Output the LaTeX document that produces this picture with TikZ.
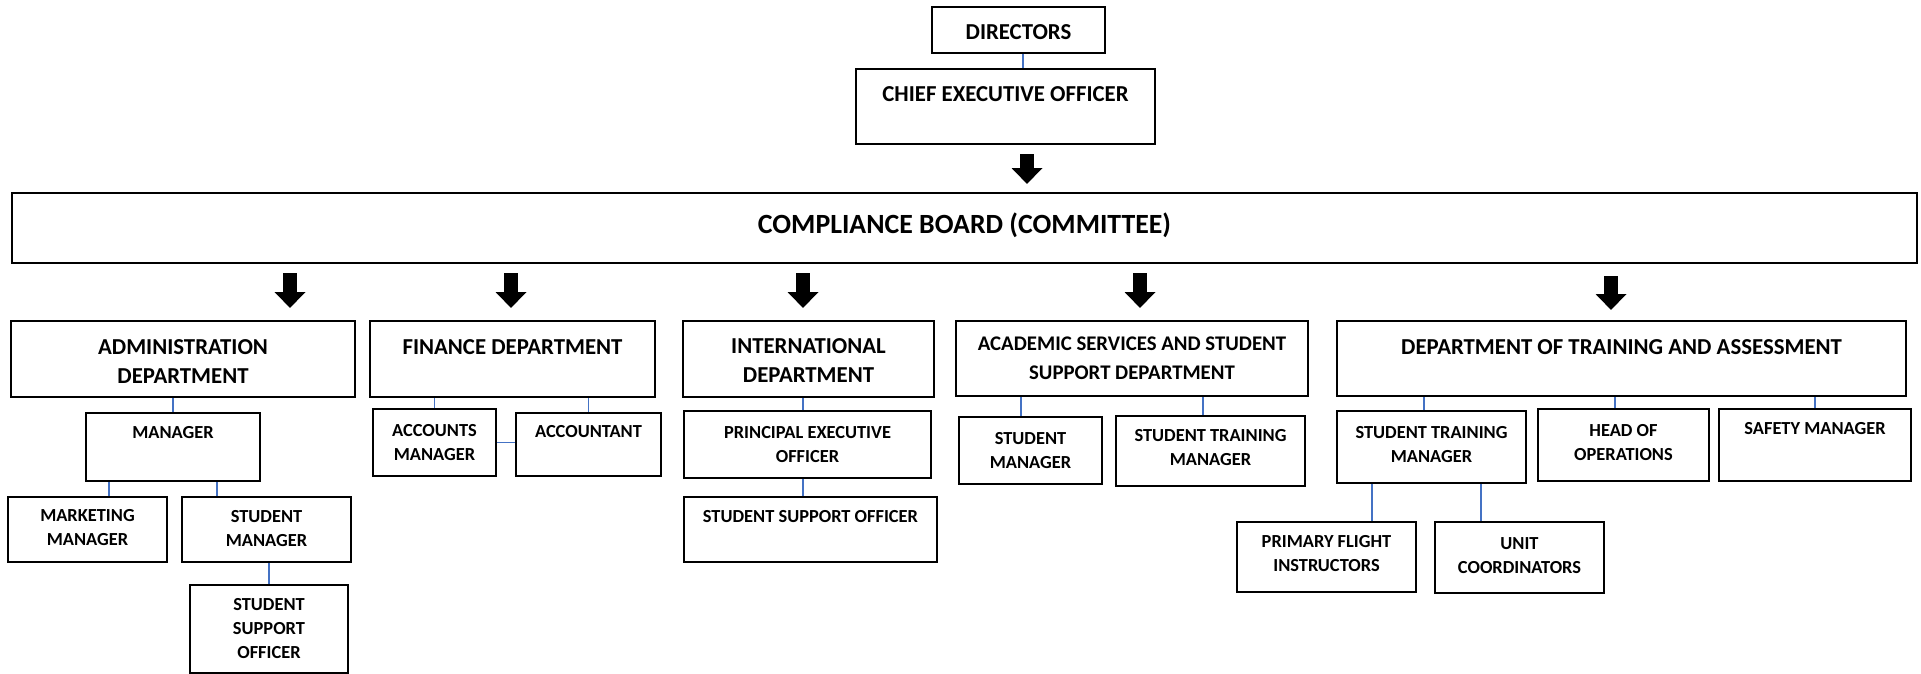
\documentclass[tikz,border=0pt]{standalone}
\usepackage{fontspec}
\setmainfont{Carlito}
\usetikzlibrary{arrows.meta, positioning, fit}

\definecolor{linkblue}{RGB}{68,114,196}

\tikzset{
  box/.style={draw=black, line width=0.9pt, inner sep=0pt},
  toptext/.style={font=\bfseries\fontsize{11.4}{14.5}\selectfont, align=center, inner sep=0pt},
  boardtext/.style={font=\bfseries\fontsize{13.9}{17}\selectfont, align=center, inner sep=0pt},
  smalltext/.style={font=\bfseries\fontsize{9.2}{12}\selectfont, align=center, inner sep=0pt},
  link/.style={draw=linkblue, line width=0.6pt},
  bigarrow/.style={line width=7pt, -{Triangle[length=8pt, width=15pt]}}
}

\begin{document}
\begin{tikzpicture}[x=0.5pt, y=-0.5pt]
        \useasboundingbox (0,0) rectangle (1921,674);
        % top of the chart
        \node[box, fit={(932,7) (1105,53)}] (dir) {};
        \node[toptext, below=9pt of dir.north] (dir-t) {DIRECTORS};
        \node[box, fit={(856,69) (1155,144)}] (ceo) {};
        \node[toptext, below=9pt of ceo.north] (ceo-t) {CHIEF EXECUTIVE OFFICER};
        \node[box, fit={(12,193) (1917,263)}] (board) {};
        \node[boardtext, below=10pt of board.north] (board-t) {COMPLIANCE BOARD (COMMITTEE)};
        \draw[link] ([xshift=2.25pt]dir.south) -- ([xshift=2.25pt]dir.south |- ceo.north);
        \coordinate (a0s) at (1027,154);
        \coordinate (a0e) at (1027,184);
        \draw[bigarrow] (a0s) -- (a0e);

        % departments
        \node[box, fit={(11,321) (355,397)}] (admin) {};
        \node[toptext, below=9.5pt of admin.north] (admin-t) {ADMINISTRATION\\DEPARTMENT};
        \node[box, fit={(370,321) (655,397)}] (fin) {};
        \node[toptext, below=9.5pt of fin.north] (fin-t) {FINANCE DEPARTMENT};
        \node[box, fit={(683,321) (934,397)}] (intl) {};
        \node[toptext, below=9pt of intl.north] (intl-t) {INTERNATIONAL\\DEPARTMENT};
        \node[box, fit={(956,321) (1308,396)}] (acad) {};
        \node[toptext, font=\bfseries\fontsize{10.4}{14.5}\selectfont, below=8pt of acad.north] (acad-t) {ACADEMIC SERVICES AND STUDENT\\SUPPORT DEPARTMENT};
        \node[box, fit={(1337,321) (1906,396)}] (dta) {};
        \node[toptext, below=9.5pt of dta.north] (dta-t) {DEPARTMENT OF TRAINING AND ASSESSMENT};
        \coordinate (a1s) at (290,273);
        \coordinate (a1e) at (290,308);
        \coordinate (a2s) at (511,273);
        \coordinate (a2e) at (511,308);
        \coordinate (a3s) at (803,273);
        \coordinate (a3e) at (803,308);
        \coordinate (a4s) at (1140,273);
        \coordinate (a4e) at (1140,308);
        \coordinate (a5s) at (1611,276);
        \coordinate (a5e) at (1611,310);
        \draw[bigarrow] (a1s) -- (a1e);
        \draw[bigarrow] (a2s) -- (a2e);
        \draw[bigarrow] (a3s) -- (a3e);
        \draw[bigarrow] (a4s) -- (a4e);
        \draw[bigarrow] (a5s) -- (a5e);

        % administration
        \node[box, fit={(86,413) (260,481)}] (mgr) {};
        \node[smalltext, below=7pt of mgr.north] (mgr-t) {MANAGER};
        \node[box, fit={(8,497) (167,562)}] (mkt) {};
        \node[smalltext, below=6.5pt of mkt.north] (mkt-t) {MARKETING\\MANAGER};
        \node[box, fit={(182,497) (351,562)}] (smgr) {};
        \node[smalltext, below=7pt of smgr.north] (smgr-t) {STUDENT\\MANAGER};
        \node[box, fit={(190,585) (348,673)}] (sso) {};
        \node[smalltext, below=7pt of sso.north] (sso-t) {STUDENT\\SUPPORT\\OFFICER};
        \draw[link] (mgr.north) -- (mgr.north |- admin.south);
        \draw[link] ([xshift=10.75pt]mkt.north) -- ([xshift=10.75pt]mkt.north |- mgr.south);
        \draw[link] ([xshift=-24.75pt]smgr.north) -- ([xshift=-24.75pt]smgr.north |- mgr.south);
        \draw[link] (sso.north) -- (sso.north |- smgr.south);

        % finance
        \node[box, fit={(373,409) (496,476)}] (accmgr) {};
        \node[smalltext, below=8pt of accmgr.north] (accmgr-t) {ACCOUNTS\\MANAGER};
        \node[box, fit={(516,413) (661,476)}] (acct) {};
        \node[smalltext, below=6.5pt of acct.north] (acct-t) {ACCOUNTANT};
        \draw[link] (accmgr.north) -- (accmgr.north |- fin.south);
        \draw[link] (acct.north) -- (acct.north |- fin.south);
        \draw[link] (accmgr.east) -- (accmgr.east -| acct.west);

        % international
        \node[box, fit={(684,411) (931,478)}] (peo) {};
        \node[smalltext, below=8pt of peo.north] (peo-t) {PRINCIPAL EXECUTIVE\\OFFICER};
        \node[box, fit={(684,497) (937,562)}] (sso2) {};
        \node[smalltext, below=7pt of sso2.north] (sso2-t) {STUDENT SUPPORT OFFICER};
        \draw[link] ([xshift=-2.25pt]peo.north) -- ([xshift=-2.25pt]peo.north |- intl.south);
        \draw[link] ([xshift=-2.25pt]peo.south) -- ([xshift=-2.25pt]peo.south |- sso2.north);

        % academic services
        \node[box, fit={(959,417) (1102,484)}] (smgr2) {};
        \node[smalltext, below=8pt of smgr2.north] (smgr2-t) {STUDENT\\MANAGER};
        \node[box, fit={(1116,416) (1305,486)}] (stm2) {};
        \node[smalltext, below=7pt of stm2.north] (stm2-t) {STUDENT TRAINING\\MANAGER};
        \draw[link] ([xshift=-4.75pt]smgr2.north) -- ([xshift=-4.75pt]smgr2.north |- acad.south);
        \draw[link] ([xshift=-3.75pt]stm2.north) -- ([xshift=-3.75pt]stm2.north |- acad.south);

        % training and assessment
        \node[box, fit={(1337,411) (1526,483)}] (stm3) {};
        \node[smalltext, below=8pt of stm3.north] (stm3-t) {STUDENT TRAINING\\MANAGER};
        \node[box, fit={(1538,409) (1709,481)}] (hoo) {};
        \node[smalltext, below=8pt of hoo.north] (hoo-t) {HEAD OF\\OPERATIONS};
        \node[box, fit={(1719,409) (1911,481)}] (safety) {};
        \node[smalltext, below=7pt of safety.north] (safety-t) {SAFETY MANAGER};
        \node[box, fit={(1237,522) (1416,592)}] (pfi) {};
        \node[smalltext, below=7pt of pfi.north] (pfi-t) {PRIMARY FLIGHT\\INSTRUCTORS};
        \node[box, fit={(1435,522) (1604,593)}] (unit) {};
        \node[smalltext, below=8pt of unit.north] (unit-t) {UNIT\\COORDINATORS};
        \draw[link] ([xshift=-3.75pt]stm3.north) -- ([xshift=-3.75pt]stm3.north |- dta.south);
        \draw[link] ([xshift=-4.25pt]hoo.north) -- ([xshift=-4.25pt]hoo.north |- dta.south);
        \draw[link] (safety.north) -- (safety.north |- dta.south);
        \draw[link] ([xshift=22.75pt]pfi.north) -- ([xshift=22.75pt]pfi.north |- stm3.south);
        \draw[link] ([xshift=-19.25pt]unit.north) -- ([xshift=-19.25pt]unit.north |- stm3.south);
      \end{tikzpicture}
\end{document}
